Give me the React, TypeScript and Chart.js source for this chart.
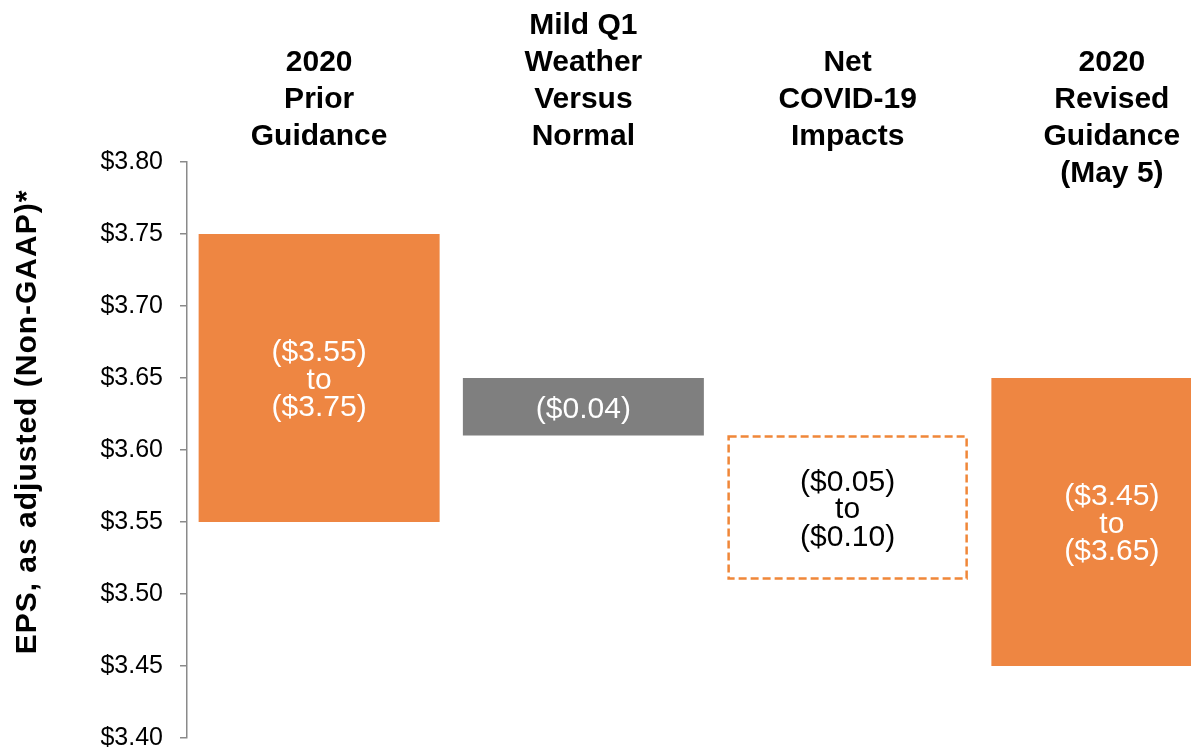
import React, { useEffect, useRef } from "react";
import { Chart, registerables } from "chart.js";

Chart.register(...registerables);

const categories: string[][] = [
  ["2020", "Prior", "Guidance"],
  ["Mild Q1", "Weather", "Versus", "Normal"],
  ["Net", "COVID-19", "Impacts"],
  ["2020", "Revised", "Guidance", "(May 5)"],
];
const categoryStartRow = [1, 0, 1, 1];
const barLow = [3.55, 3.61, 3.51, 3.45];
const barHigh = [3.75, 3.65, 3.61, 3.65];
const barLabels: string[][] = [
  ["($3.55)", "to", "($3.75)"],
  ["($0.04)"],
  ["($0.05)", "to", "($0.10)"],
  ["($3.45)", "to", "($3.65)"],
];
const yMin = 3.4;
const yMax = 3.8;
const yStep = 0.05;
const yTitle = "EPS, as adjusted (Non-GAAP)*";

const ORANGE = "#EE8642";
const GRAY = "#7F7F7F";
const DASH_ORANGE = "#F08739";
const FONT = "'Liberation Sans', Arial, sans-serif";

const barFill = [ORANGE, GRAY, "rgba(0,0,0,0)", ORANGE];
const labelColor = ["#ffffff", "#ffffff", "#000000", "#ffffff"];
const dashedIndex = 2;

export default function App() {
  const ref = useRef<HTMLCanvasElement | null>(null);

  useEffect(() => {
    const canvas = ref.current;
    if (!canvas) return;

    const overlay = {
      id: "overlay",
      afterDatasetsDraw(chart: any) {
        const ctx = chart.ctx as CanvasRenderingContext2D;
        const meta = chart.getDatasetMeta(0);
        ctx.save();
        const el: any = meta.data[dashedIndex];
        if (el) {
          const left = el.x - el.width / 2;
          const top = Math.min(el.y, el.base);
          const h = Math.abs(el.base - el.y);
          ctx.strokeStyle = DASH_ORANGE;
          ctx.lineWidth = 2.5;
          ctx.setLineDash([8, 4]);
          ctx.strokeRect(left + 1.5, top + 1, el.width - 3, h - 2);
          ctx.setLineDash([]);
        }
        ctx.font = `30px ${FONT}`;
        ctx.textAlign = "center";
        ctx.textBaseline = "alphabetic";
        meta.data.forEach((b: any, i: number) => {
          const lines = barLabels[i];
          const cy = (b.y + b.base) / 2;
          const sp = 27.5;
          ctx.fillStyle = labelColor[i];
          lines.forEach((ln, k) => {
            const c = cy + (k - (lines.length - 1) / 2) * sp;
            ctx.fillText(ln, b.x, c + 10.7);
          });
        });
        const xs = chart.scales.x;
        ctx.font = `bold 30px ${FONT}`;
        ctx.fillStyle = "#000000";
        categories.forEach((lines, i) => {
          const x = xs.getPixelForValue(i);
          lines.forEach((ln, k) => {
            const row = categoryStartRow[i] + k;
            ctx.fillText(ln, x, 34 + row * 37);
          });
        });
        ctx.translate(36, 422);
        ctx.rotate(-Math.PI / 2);
        ctx.font = `bold 30px ${FONT}`;
        try {
          (ctx as any).letterSpacing = "1px";
        } catch (e) {}
        ctx.fillText(yTitle, 0, 0);
        ctx.restore();
      },
    };

    const chart = new Chart(canvas, {
      type: "bar",
      data: {
        labels: categories.map((c) => c.join(" ")),
        datasets: [
          {
            data: barLow.map((lo, i) => [lo, barHigh[i]]) as any,
            backgroundColor: barFill,
            borderWidth: 0,
            categoryPercentage: 1,
            barPercentage: 0.912,
          },
        ],
      },
      options: {
        responsive: false,
        animation: false,
        devicePixelRatio: 1,
        layout: { padding: { top: 162, left: 0, right: 0, bottom: 0 } },
        plugins: {
          legend: { display: false },
          tooltip: { enabled: false },
        },
        scales: {
          x: { display: false },
          y: {
            min: yMin,
            max: yMax,
            afterFit: (s: any) => {
              s.width = 187;
            },
            border: { display: true, color: "#8A8A8A", width: 1.5 },
            grid: {
              display: true,
              drawOnChartArea: false,
              drawTicks: true,
              tickLength: 7,
              color: "#8A8A8A",
              lineWidth: 1.5,
            },
            ticks: {
              stepSize: yStep,
              padding: 17,
              color: "#000000",
              font: { family: FONT, size: 25 },
              callback: (v: any) => "$" + Number(v).toFixed(2),
            },
          },
        },
      },
      plugins: [overlay],
    });
    return () => chart.destroy();
  }, []);

  return (
    <div
      style={{
        position: "fixed",
        left: 0,
        top: 0,
        width: 1191,
        height: 750,
        overflow: "hidden",
        background: "#ffffff",
      }}
    >
      <canvas ref={ref} width={1244} height={770} style={{ display: "block" }} />
    </div>
  );
}
